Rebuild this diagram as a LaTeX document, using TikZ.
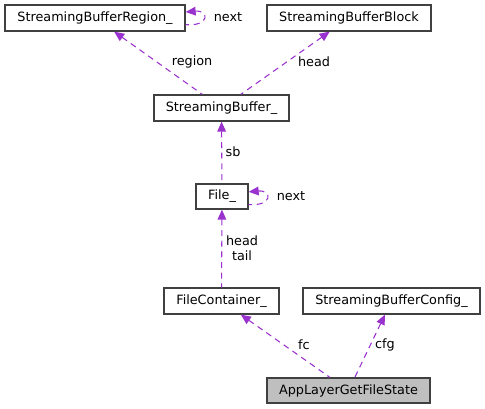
\documentclass[tikz,border=0pt]{standalone}
\usepackage{fontspec}
\setmainfont{DejaVu Sans}
\usetikzlibrary{arrows.meta}
\definecolor{edgec}{HTML}{9A32CD}
\definecolor{boxc}{HTML}{404040}
\definecolor{curc}{HTML}{BFBFBF}
\begin{document}
\begin{tikzpicture}[x=0.75pt,y=-0.75pt,
  cls/.style={draw=boxc,line width=1pt,fill=white,inner sep=0pt,minimum height=26*0.75pt,font=\fontsize{9.6}{11}\selectfont},
  cur/.style={cls,fill=curc},
  edge/.style={draw=edgec,line width=0.8pt,dash pattern=on 4.5pt off 3.5pt,{Triangle[length=7.5pt,width=6.5pt]}-},
  lbl/.style={font=\fontsize{9.6}{11}\selectfont,inner sep=0pt,align=center}]
\useasboundingbox (0,0) rectangle (485,409);
\node[cls,minimum width=180*0.75pt] (sbr) at (95,18) {StreamingBufferRegion\_};
\node[cls,minimum width=164*0.75pt] (sbb) at (349,18) {StreamingBufferBlock};
\node[cls,minimum width=135*0.75pt] (sbuf) at (221.5,108) {StreamingBuffer\_};
\node[cls,minimum width=52*0.75pt,minimum height=25*0.75pt] (file) at (222,196.5) {File\_};
\node[cls,minimum width=115*0.75pt] (fc) at (221.5,301) {FileContainer\_};
\node[cls,minimum width=177*0.75pt] (sbc) at (391.5,301) {StreamingBufferConfig\_};
\node[cur,minimum width=163*0.75pt,minimum height=25*0.75pt] (app) at (348.5,390.5) {AppLayerGetFileState};
\draw[edge] (sbr) -- (sbuf);
\draw[edge] (sbb) -- (sbuf);
\draw[edge] (sbuf) -- (file);
\draw[edge] (file) -- (fc);
\draw[edge] (fc) -- (app);
\draw[edge] (sbc) -- (app);
\draw[edge] ([yshift=4.5pt]sbr.east) .. controls +(24,-2) and +(24,2) .. ([yshift=-5pt]sbr.east);
\draw[edge] ([yshift=3.5pt]file.east) .. controls +(24,-2) and +(24,2) .. ([yshift=-6pt]file.east);
\node[lbl] (lnext1) at (228,17) {next};
\node[lbl] (lregion) at (192,62) {region};
\node[lbl] (lhead1) at (314,62) {head};
\node[lbl] (lsb) at (233,152) {sb};
\node[lbl] (lnext2) at (291,196) {next};
\node[lbl] (lht) at (242,248) {head\\tail};
\node[lbl] (lfc) at (304,345) {fc};
\node[lbl] (lcfg) at (385,345) {cfg};
\end{tikzpicture}
\end{document}
